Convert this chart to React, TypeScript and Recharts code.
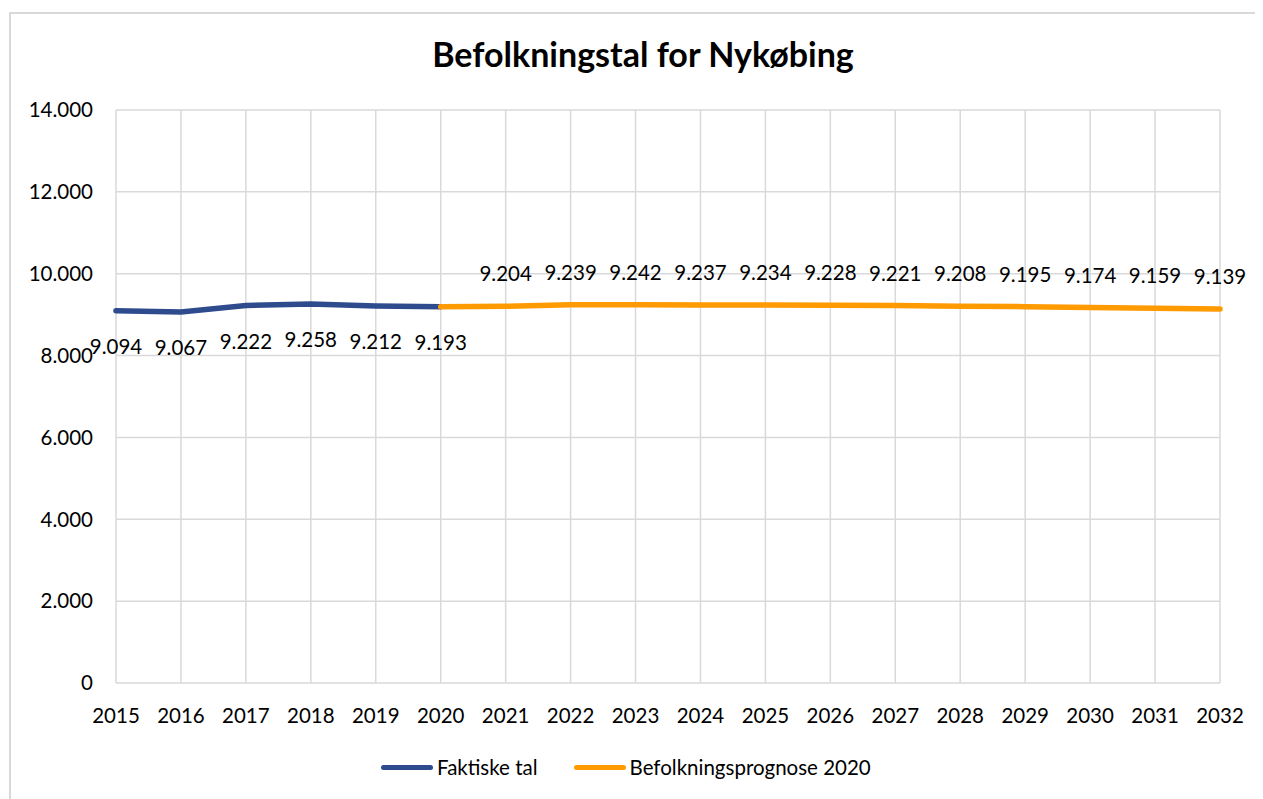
import { LineChart, Line, XAxis, YAxis, CartesianGrid, LabelList } from "recharts"

const years = ["2015", "2016", "2017", "2018", "2019", "2020", "2021", "2022", "2023", "2024", "2025", "2026", "2027", "2028", "2029", "2030", "2031", "2032"]
// 2015-2020
const faktiske = [9094, 9067, 9222, 9258, 9212, 9193]
// 2020-2032 (2020 is the shared starting point)
const prognose = [9193, 9204, 9239, 9242, 9237, 9234, 9228, 9221, 9208, 9195, 9174, 9159, 9139]
const yTicks = [0, 2000, 4000, 6000, 8000, 10000, 12000, 14000]

const prognoseStart = years.indexOf("2020")

const data = years.map((year, i) => ({
  year,
  faktiske: i < faktiske.length ? faktiske[i] : null,
  prognose: i >= prognoseStart ? prognose[i - prognoseStart] : null,
}))

const BLUE = "#2E4B8E"
const ORANGE = "#FF9A00"
const FONT = "Lato, 'Open Sans', sans-serif"

const fmt = (v: number) => v.toLocaleString("da-DK")

const makeLabel = (dy: number, skipIndex?: number) => (props: any) => {
  const { x, y, value, index } = props
  if (value == null || index === skipIndex) return null
  return (
    <text x={x} y={y + dy} textAnchor="middle" fontSize={20.5} fill="#000" fontFamily={FONT}>
      {fmt(value)}
    </text>
  )
}

const legendItems = [
  { name: "Faktiske tal", color: BLUE },
  { name: "Befolkningsprognose 2020", color: ORANGE },
]

export default function App() {
  return (
    <div style={{ position: "relative", width: 1255, height: 791, background: "#fff" }}>
      <div
        style={{
          position: "absolute",
          left: 1,
          top: 4,
          width: 1254,
          height: 787,
          borderLeft: "2px solid #d9d9d9",
          borderTop: "2px solid #d9d9d9",
        }}
      />
      <div
        style={{
          position: "absolute",
          left: 0,
          width: 1270,
          top: 26,
          textAlign: "center",
          fontFamily: FONT,
          fontWeight: 700,
          fontSize: 34,
          lineHeight: "40px",
          color: "#000",
        }}
      >
        Befolkningstal for Nykøbing
      </div>
      <LineChart width={1255} height={791} data={data} margin={{ top: 102, right: 43, bottom: 0, left: 0 }}>
        <CartesianGrid stroke="#d9d9d9" strokeWidth={1.5} />
        <XAxis
          dataKey="year"
          axisLine={false}
          tickLine={false}
          tickSize={0}
          tickMargin={25}
          interval={0}
          height={116}
          tick={{ fontSize: 20.5, fill: "#000", fontFamily: FONT }}
        />
        <YAxis
          domain={[0, 14000]}
          ticks={yTicks}
          axisLine={false}
          tickLine={false}
          tickSize={0}
          tickMargin={23}
          width={108}
          tickFormatter={fmt}
          tick={{ fontSize: 20.5, fill: "#000", fontFamily: FONT }}
        />
        <Line
          dataKey="faktiske"
          name="Faktiske tal"
          stroke={BLUE}
          strokeWidth={5.5}
          strokeLinecap="round"
          dot={false}
          activeDot={false}
          connectNulls={false}
          isAnimationActive={false}
        >
          <LabelList dataKey="faktiske" content={makeLabel(43)} />
        </Line>
        <Line
          dataKey="prognose"
          name="Befolkningsprognose 2020"
          stroke={ORANGE}
          strokeWidth={5.5}
          strokeLinecap="round"
          dot={false}
          activeDot={false}
          connectNulls={false}
          isAnimationActive={false}
        >
          <LabelList dataKey="prognose" content={makeLabel(-25, prognoseStart)} />
        </Line>
      </LineChart>
      <div
        style={{
          position: "absolute",
          left: 373,
          top: 745,
          height: 28,
          display: "flex",
          alignItems: "center",
          fontFamily: FONT,
          fontSize: 20.5,
          color: "#000",
        }}
      >
        {legendItems.map((item, i) => (
          <div key={item.name} style={{ display: "flex", alignItems: "center", marginRight: i === 0 ? 36 : 0 }}>
            <span style={{ display: "inline-block", width: 52, height: 5, borderRadius: 3, background: item.color, marginRight: 4 }} />
            <span>{item.name}</span>
          </div>
        ))}
      </div>
    </div>
  )
}
